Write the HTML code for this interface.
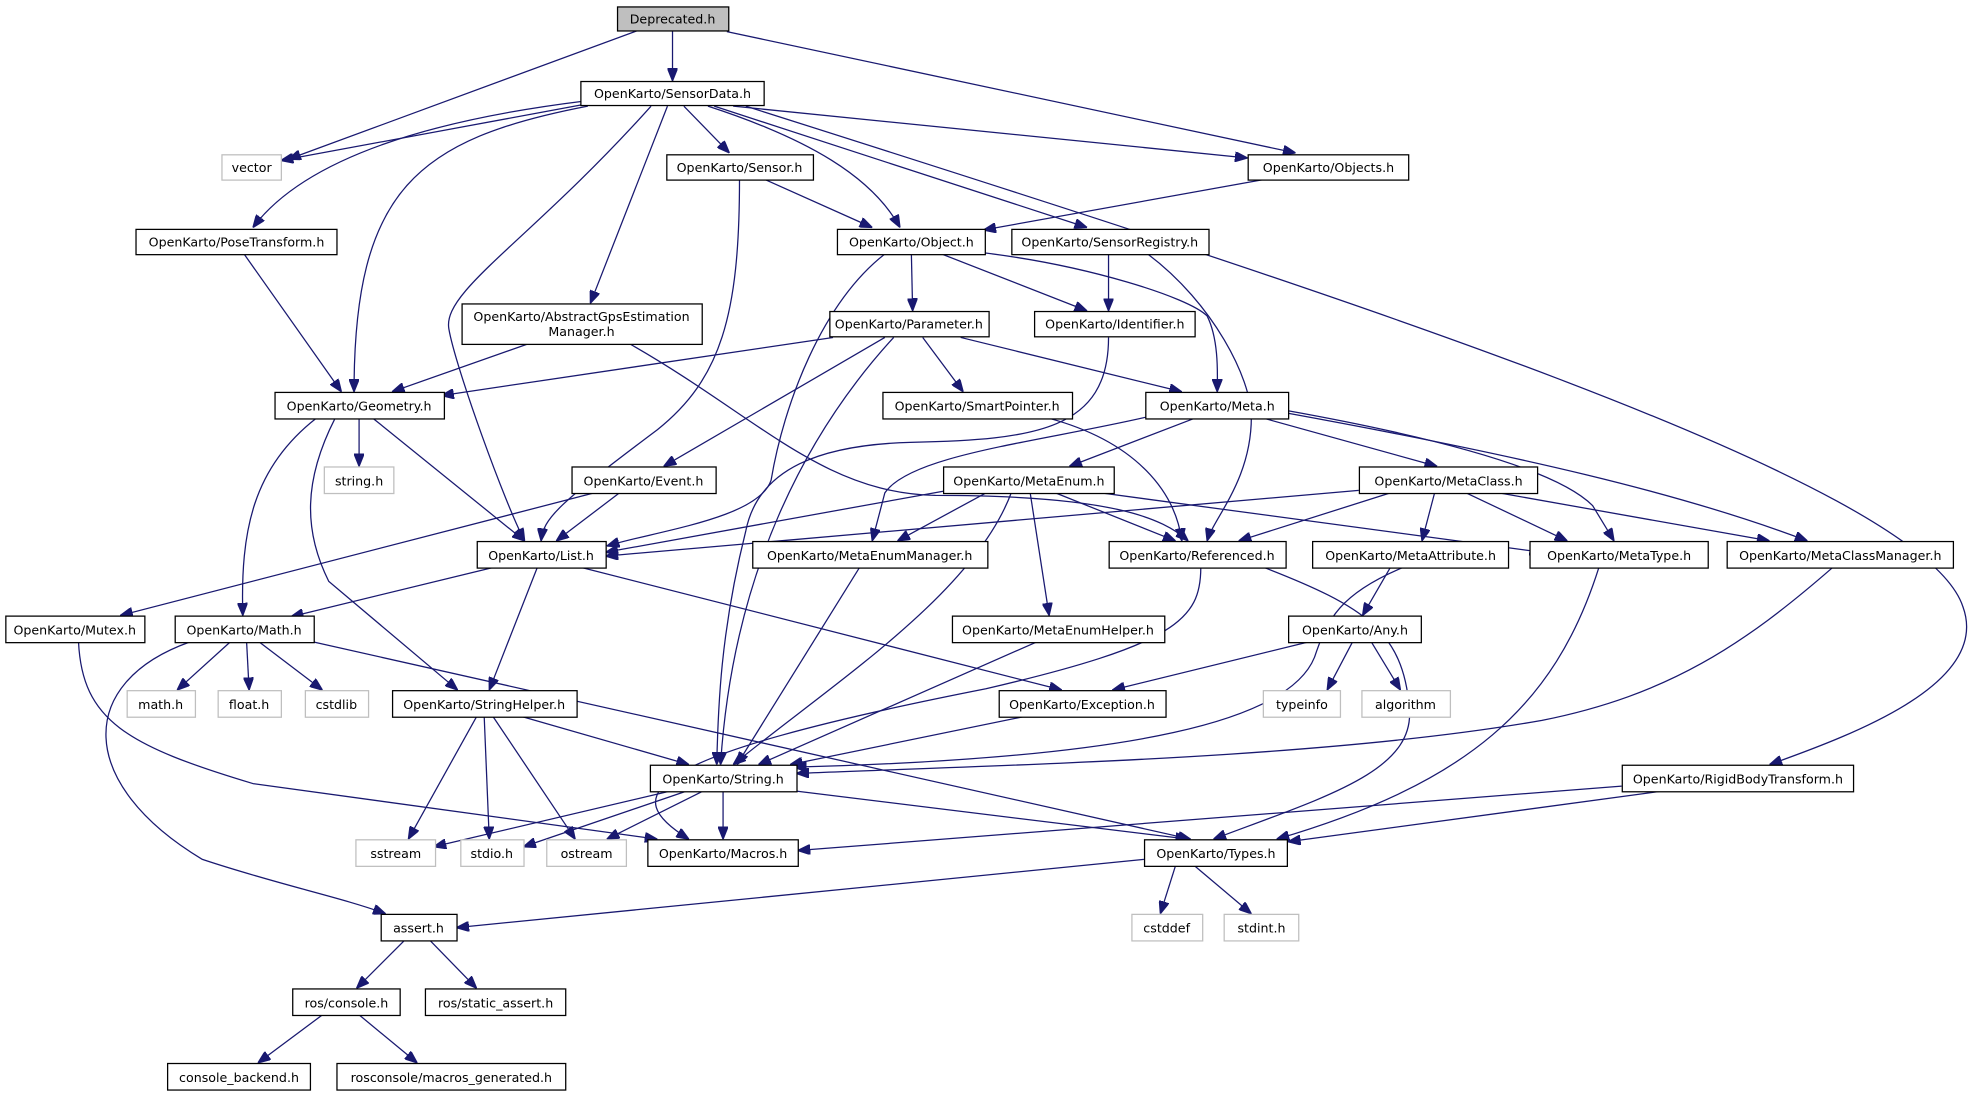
<!DOCTYPE html>
<html><head><meta charset="utf-8"><style>
html,body{margin:0;padding:0;background:#fff;}
svg{display:block;}
text{font-family:"DejaVu Sans","Liberation Sans",sans-serif;font-size:10px;fill:#000;text-anchor:middle;}
.n{fill:#fff;stroke:#000;stroke-width:1;}
.g{fill:#fff;stroke:#bfbfbf;stroke-width:1;}
.e{fill:none;stroke:#191970;stroke-width:1;marker-end:url(#a);}
</style></head><body>
<svg width="1982" height="1097" viewBox="0 0 1568 868" xmlns="http://www.w3.org/2000/svg">
<defs><marker id="a" markerUnits="userSpaceOnUse" markerWidth="10" markerHeight="8" refX="10" refY="4" orient="auto"><path d="M0,0 L10,4 L0,8 z" fill="#191970" stroke="#191970"/></marker></defs>
<g>
<path class="e" d="M505,24 L228,126"/>
<path class="e" d="M532,24 L532,64"/>
<path class="e" d="M575,25 L1025,121"/>
<path class="e" d="M460,83 L222,127"/>
<path class="e" d="M462,80 C300,100 230,140 200,180"/>
<path class="e" d="M465,84 C330,110 280,150 280,310"/>
<path class="e" d="M515,84 C420,190 350,230 355,260 S400,400 415,428"/>
<path class="e" d="M528,84 L467,240"/>
<path class="e" d="M541,84 L577,121"/>
<path class="e" d="M560,84 C640,110 690,140 712,180"/>
<path class="e" d="M565,84 L860,180"/>
<path class="e" d="M580,84 L987,125"/>
<path class="e" d="M590,84 C1050,230 1520,380 1553,480 C1575,540 1470,580 1400,605"/>
<path class="e" d="M585,142 C585,250 570,300 520,340 C440,400 430,410 428,428"/>
<path class="e" d="M605,142 L690,180"/>
<path class="e" d="M1000,142 L778,182"/>
<path class="e" d="M193,201 L270,310"/>
<path class="e" d="M700,201 C650,240 620,320 610,380 C600,410 520,420 480,432"/>
<path class="e" d="M721,201 L722,246"/>
<path class="e" d="M745,201 L860,246"/>
<path class="e" d="M778,200 C860,210 940,235 955,250 C965,270 963,300 963,310"/>
<path class="e" d="M877,201 L877,246"/>
<path class="e" d="M908,201 C960,240 990,300 990,330 C990,380 960,410 955,428"/>
<path class="e" d="M418,272 L310,310"/>
<path class="e" d="M498,272 C600,330 650,390 740,392 C880,392 920,410 940,428"/>
<path class="e" d="M659,267 L349,313"/>
<path class="e" d="M700,267 L525,369"/>
<path class="e" d="M707,267 C640,340 580,450 570,605"/>
<path class="e" d="M730,267 L762,310"/>
<path class="e" d="M760,267 L935,310"/>
<path class="e" d="M877,267 C877,340 820,348 720,350 C650,352 600,370 590,420 C570,500 568,560 567,605"/>
<path class="e" d="M830,331 C900,350 930,390 935,428"/>
<path class="e" d="M907,330 C820,350 720,360 700,390 L690,428"/>
<path class="e" d="M945,331 L846,369"/>
<path class="e" d="M1000,331 L1137,369"/>
<path class="e" d="M1019,325 C1130,345 1230,370 1260,400 L1277,428"/>
<path class="e" d="M1019,327 C1200,360 1330,390 1430,428"/>
<path class="e" d="M470,390 L95,487"/>
<path class="e" d="M490,390 L440,428"/>
<path class="e" d="M750,388 L479,437"/>
<path class="e" d="M780,390 L710,428"/>
<path class="e" d="M800,390 C770,470 660,540 580,605"/>
<path class="e" d="M815,390 L830,487"/>
<path class="e" d="M835,390 L930,428"/>
<path class="e" d="M871,390 L1220,437"/>
<path class="e" d="M1075,388 L479,440"/>
<path class="e" d="M1100,390 L980,428"/>
<path class="e" d="M1135,390 L1125,428"/>
<path class="e" d="M1160,390 L1240,428"/>
<path class="e" d="M1186,390 L1400,428"/>
<path class="e" d="M250,331 C200,370 190,420 192,487"/>
<path class="e" d="M265,331 C240,380 240,420 260,460 L362,546"/>
<path class="e" d="M284,331 L284,369"/>
<path class="e" d="M295,331 L415,428"/>
<path class="e" d="M390,449 L230,488"/>
<path class="e" d="M425,449 L387,546"/>
<path class="e" d="M460,449 L840,546"/>
<path class="e" d="M150,508 C60,540 60,620 160,680 C220,700 270,710 305,723"/>
<path class="e" d="M182,508 L140,546"/>
<path class="e" d="M195,508 L197,546"/>
<path class="e" d="M205,508 L255,546"/>
<path class="e" d="M248,508 L942,664"/>
<path class="e" d="M62,508 C65,570 100,590 200,620 L520,664"/>
<path class="e" d="M377,567 L323,664"/>
<path class="e" d="M383,567 L387,664"/>
<path class="e" d="M390,567 L455,664"/>
<path class="e" d="M413,567 L545,605"/>
<path class="e" d="M530,626 L343,670"/>
<path class="e" d="M543,626 L414,670"/>
<path class="e" d="M556,626 L480,664"/>
<path class="e" d="M572,626 L572,664"/>
<path class="e" d="M630,626 L940,664"/>
<path class="e" d="M950,449 C950,490 930,510 780,545 C500,600 490,630 545,664"/>
<path class="e" d="M1000,449 C1080,480 1110,500 1115,560 C1120,610 1050,630 960,664"/>
<path class="e" d="M1110,449 C1060,470 1050,490 1040,520 C1020,570 900,600 628,607"/>
<path class="e" d="M1100,449 L1078,487"/>
<path class="e" d="M820,508 L600,605"/>
<path class="e" d="M680,449 L583,605"/>
<path class="e" d="M810,567 L625,605"/>
<path class="e" d="M1035,508 L880,546"/>
<path class="e" d="M1070,508 L1050,546"/>
<path class="e" d="M1085,508 L1108,546"/>
<path class="e" d="M1265,449 C1230,560 1160,620 1010,664"/>
<path class="e" d="M1450,449 C1380,510 1320,550 1220,570 C1050,600 800,605 630,612"/>
<path class="e" d="M1283,622 L631,673"/>
<path class="e" d="M1315,626 L1019,666"/>
<path class="e" d="M905,680 L361,734"/>
<path class="e" d="M930,685 L918,723"/>
<path class="e" d="M945,685 L990,723"/>
<path class="e" d="M320,744 L282,782"/>
<path class="e" d="M340,744 L377,782"/>
<path class="e" d="M255,803 L204,841"/>
<path class="e" d="M284,803 L330,841"/>
</g>
<g>
<rect x="488.5" y="5.5" width="88" height="19" fill="#bfbfbf" stroke="#000"/><text x="532" y="18.5">Deprecated.h</text>
<rect class="n" x="459.5" y="64.5" width="145" height="19"/><text x="532" y="77.5">OpenKarto/SensorData.h</text>
<rect class="g" x="175.5" y="122.5" width="47" height="20"/><text x="199" y="136">vector</text>
<rect class="n" x="527.5" y="122.5" width="116" height="20"/><text x="585" y="136">OpenKarto/Sensor.h</text>
<rect class="n" x="987.5" y="122.5" width="127" height="20"/><text x="1051" y="136">OpenKarto/Objects.h</text>
<rect class="n" x="107.5" y="181.5" width="159" height="20"/><text x="187" y="195">OpenKarto/PoseTransform.h</text>
<rect class="n" x="662.5" y="181.5" width="117" height="20"/><text x="721" y="195">OpenKarto/Object.h</text>
<rect class="n" x="800.5" y="181.5" width="156" height="20"/><text x="878" y="195">OpenKarto/SensorRegistry.h</text>
<rect class="n" x="365.5" y="240.5" width="190" height="32"/><text x="460" y="254">OpenKarto/AbstractGpsEstimation</text><text x="460" y="266">Manager.h</text>
<rect class="n" x="656.5" y="246.5" width="126" height="20"/><text x="719" y="260">OpenKarto/Parameter.h</text>
<rect class="n" x="818.5" y="246.5" width="127" height="20"/><text x="882" y="260">OpenKarto/Identifier.h</text>
<rect class="n" x="217.5" y="310.5" width="134" height="21"/><text x="284" y="325">OpenKarto/Geometry.h</text>
<rect class="n" x="698.5" y="310.5" width="150" height="21"/><text x="773" y="325">OpenKarto/SmartPointer.h</text>
<rect class="n" x="906.5" y="310.5" width="113" height="21"/><text x="963" y="325">OpenKarto/Meta.h</text>
<rect class="g" x="256.5" y="369.5" width="55" height="21"/><text x="284" y="384">string.h</text>
<rect class="n" x="452.5" y="369.5" width="114" height="21"/><text x="509" y="384">OpenKarto/Event.h</text>
<rect class="n" x="746.5" y="369.5" width="135" height="21"/><text x="814" y="384">OpenKarto/MetaEnum.h</text>
<rect class="n" x="1075.5" y="369.5" width="141" height="21"/><text x="1146" y="384">OpenKarto/MetaClass.h</text>
<rect class="n" x="377.5" y="428.5" width="102" height="21"/><text x="428" y="443">OpenKarto/List.h</text>
<rect class="n" x="595.5" y="428.5" width="186" height="21"/><text x="688" y="443">OpenKarto/MetaEnumManager.h</text>
<rect class="n" x="877.5" y="428.5" width="140" height="21"/><text x="947" y="443">OpenKarto/Referenced.h</text>
<rect class="n" x="1038.5" y="428.5" width="155" height="21"/><text x="1116" y="443">OpenKarto/MetaAttribute.h</text>
<rect class="n" x="1210.5" y="428.5" width="141" height="21"/><text x="1281" y="443">OpenKarto/MetaType.h</text>
<rect class="n" x="1366.5" y="428.5" width="179" height="21"/><text x="1456" y="443">OpenKarto/MetaClassManager.h</text>
<rect class="n" x="4.5" y="487.5" width="110" height="21"/><text x="59" y="502">OpenKarto/Mutex.h</text>
<rect class="n" x="138.5" y="487.5" width="110" height="21"/><text x="193" y="502">OpenKarto/Math.h</text>
<rect class="n" x="753.5" y="487.5" width="168" height="21"/><text x="837" y="502">OpenKarto/MetaEnumHelper.h</text>
<rect class="n" x="1019.5" y="487.5" width="105" height="21"/><text x="1072" y="502">OpenKarto/Any.h</text>
<rect class="g" x="100.5" y="546.5" width="54" height="21"/><text x="127" y="561">math.h</text>
<rect class="g" x="172.5" y="546.5" width="50" height="21"/><text x="197" y="561">float.h</text>
<rect class="g" x="241.5" y="546.5" width="50" height="21"/><text x="266" y="561">cstdlib</text>
<rect class="n" x="310.5" y="546.5" width="146" height="21"/><text x="383" y="561">OpenKarto/StringHelper.h</text>
<rect class="n" x="790.5" y="546.5" width="132" height="21"/><text x="856" y="561">OpenKarto/Exception.h</text>
<rect class="g" x="999.5" y="546.5" width="61" height="21"/><text x="1030" y="561">typeinfo</text>
<rect class="g" x="1077.5" y="546.5" width="70" height="21"/><text x="1112" y="561">algorithm</text>
<rect class="n" x="514.5" y="605.5" width="116" height="21"/><text x="572" y="620">OpenKarto/String.h</text>
<rect class="n" x="1283.5" y="605.5" width="183" height="21"/><text x="1375" y="620">OpenKarto/RigidBodyTransform.h</text>
<rect class="g" x="281.5" y="664.5" width="63" height="21"/><text x="313" y="679">sstream</text>
<rect class="g" x="364.5" y="664.5" width="50" height="21"/><text x="389" y="679">stdio.h</text>
<rect class="g" x="432.5" y="664.5" width="63" height="21"/><text x="464" y="679">ostream</text>
<rect class="n" x="512.5" y="664.5" width="119" height="21"/><text x="572" y="679">OpenKarto/Macros.h</text>
<rect class="n" x="905.5" y="664.5" width="113" height="21"/><text x="962" y="679">OpenKarto/Types.h</text>
<rect class="g" x="895.5" y="723.5" width="56" height="21"/><text x="923" y="738">cstddef</text>
<rect class="g" x="968.5" y="723.5" width="59" height="21"/><text x="998" y="738">stdint.h</text>
<rect class="n" x="301.5" y="723.5" width="60" height="21"/><text x="331" y="738">assert.h</text>
<rect class="n" x="231.5" y="782.5" width="85" height="21"/><text x="274" y="797">ros/console.h</text>
<rect class="n" x="336.5" y="782.5" width="111" height="21"/><text x="392" y="797">ros/static_assert.h</text>
<rect class="n" x="132.5" y="841.5" width="113" height="21"/><text x="189" y="856">console_backend.h</text>
<rect class="n" x="266.5" y="841.5" width="181" height="21"/><text x="357" y="856">rosconsole/macros_generated.h</text>
</g>
</svg>
</body></html>
